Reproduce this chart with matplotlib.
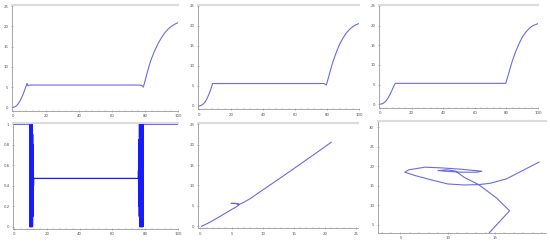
import matplotlib.pyplot as plt
from matplotlib.ticker import AutoMinorLocator

# top row: three time series (t, y)
t1 = [0, 1, 2, 3, 4, 5, 6, 7, 8, 8.5, 9, 9.5, 20, 40, 60, 77, 78, 79, 80, 81, 82, 83, 84,
      86, 88, 90, 92, 94, 96, 98, 100]
y1 = [0, 0.1, 0.35, 0.8, 1.4, 2.2, 3.1, 4.2, 5.3, 5.9, 5.3, 5.5, 5.5, 5.5, 5.5, 5.5, 5.4,
      5.0, 6.5, 8.0, 9.5, 10.9, 12.1, 14.1, 15.8, 17.2, 18.4, 19.3, 20.0, 20.5, 20.9]

t2 = [0, 1, 2, 3, 4, 5, 6, 7, 8, 8.5, 20, 40, 60, 78, 79, 79.6, 80, 81, 82, 83, 84,
      86, 88, 90, 92, 94, 96, 98, 100]
y2 = [0, 0.05, 0.25, 0.6, 1.1, 1.8, 2.7, 3.7, 4.9, 5.6, 5.6, 5.6, 5.6, 5.6, 5.4, 5.2,
      5.8, 7.2, 8.7, 10.1, 11.4, 13.6, 15.5, 17.0, 18.2, 19.1, 19.8, 20.3, 20.6]

t3 = [0, 1, 2, 3, 4, 5, 6, 7, 8, 9, 9.7, 20, 40, 60, 79.6, 80, 81, 82, 83, 84,
      86, 88, 90, 92, 94, 96, 98, 100]
y3 = [0, 0.05, 0.2, 0.5, 0.9, 1.5, 2.2, 3.0, 3.9, 4.8, 5.3, 5.3, 5.3, 5.3, 5.3, 5.8,
      7.2, 8.6, 10.0, 11.3, 13.5, 15.4, 17.0, 18.2, 19.1, 19.8, 20.2, 20.5]

# bottom left: switching signal
t4 = [0, 9.6, 9.7, 9.8, 9.9, 10.0, 10.1, 10.2, 10.3, 10.4, 10.5, 10.6, 10.7, 10.8, 10.9,
      11.0, 11.1, 11.2, 11.3, 11.4, 11.5, 11.6, 11.7, 11.8, 11.9, 12.0, 20, 40, 60,
      75.8, 75.9, 76.0, 76.1, 76.2, 76.3, 76.4, 76.5, 76.6, 76.7, 76.8, 76.9, 77.0,
      77.1, 77.2, 77.3, 77.4, 77.5, 77.6, 77.7, 77.8, 77.9, 78.0, 78.1, 78.2, 78.3,
      78.4, 78.5, 78.6, 78.7, 78.8, 79.0, 100]
y4 = [1, 1, 0, 1, 0, 1, 0, 1, 0, 1, 0, 1, 0, 1, 0, 1, 0, 1, 0, 0.9, 0.1, 0.8, 0.3,
      0.6, 0.4, 0.47, 0.47, 0.47, 0.47,
      0.47, 0.55, 0.38, 0.7, 0.2, 0.85, 0.1, 1, 0, 1, 0, 1, 0, 1, 0, 1, 0, 1, 0, 1,
      0, 1, 0, 1, 0, 1, 0, 1, 0, 1, 1, 1, 1]

# bottom middle: phase plot
x5 = [0.15, 1, 2, 3, 4, 5, 5.8, 6.1, 6.2, 5.6, 4.9, 5.5, 6.1, 6.3, 7, 8, 10, 13, 16,
      19, 21]
y5 = [0, 0.6, 1.4, 2.3, 3.2, 4.1, 4.8, 5.1, 5.3, 5.55, 5.6, 5.65, 5.5, 5.4, 5.9, 6.8,
      8.9, 12.0, 15.2, 18.4, 20.6]

# bottom right: trajectory
x6 = [19.66, 17.93, 16.21, 14.48, 13.28, 11.72, 10.0, 8.28, 6.55, 5.45, 5.86, 7.59,
      9.31, 11.38, 13.62, 13.10, 11.38, 9.66, 8.97, 10.0, 10.86, 11.72, 13.28, 15.17,
      16.55, 14.41]
y6 = [21.07, 18.92, 16.77, 15.65, 15.31, 15.22, 15.48, 16.51, 17.63, 18.49, 19.09,
      19.78, 19.6, 19.26, 18.75, 18.49, 18.49, 18.75, 18.92, 19.09, 18.75, 17.2, 15.31,
      11.87, 8.61, 3.02]

LINE = '#6b6be6'
W, H = 550, 243

fig = plt.figure(figsize=(5.5, 2.43), dpi=100)


def make_ax(left, right, top, bottom):
    ax = fig.add_axes([left / W, 1 - bottom / H, (right - left) / W, (bottom - top) / H])
    for s in ['left', 'bottom']:
        ax.spines[s].set_color('#9a9a9a')
        ax.spines[s].set_linewidth(0.6)
    ax.spines['right'].set_visible(False)
    ax.spines['top'].set_color('#dcdcdc')
    ax.spines['top'].set_linewidth(1.5)
    ax.xaxis.set_minor_locator(AutoMinorLocator(5))
    ax.yaxis.set_minor_locator(AutoMinorLocator(5))
    ax.tick_params(which='major', labelsize=2.8, length=2, width=0.4, pad=1.5,
                   colors='#8a8a8a', labelcolor='#555555', direction='inout')
    ax.tick_params(which='minor', length=1, width=0.3, colors='#9a9a9a', direction='in')
    return ax


ax1 = make_ax(12, 178, 5, 111)
ax1.plot(t1, y1, color=LINE, lw=0.8)
ax2 = make_ax(198, 359, 5, 109.5)
ax2.plot(t2, y2, color=LINE, lw=0.8)
ax3 = make_ax(379, 538, 5, 107.7)
ax3.plot(t3, y3, color=LINE, lw=0.8)
for ax in (ax1, ax2, ax3):
    ax.set_xlim(-0.6, 100)
    ax.set_ylim(-0.9, 25.25)
    ax.set_xticks([0, 20, 40, 60, 80, 100])
    ax.set_yticks([0, 5, 10, 15, 20, 25])

ax4 = make_ax(13, 178, 123, 228.7)
ax4.plot(t4, y4, color='#1a1aff', lw=0.9)
ax4.set_xlim(-0.6, 100)
ax4.set_ylim(-0.02, 1.01)
ax4.set_xticks([0, 20, 40, 60, 80, 100])
ax4.set_yticks([0, 0.2, 0.4, 0.6, 0.8, 1])
ax4.set_yticklabels(['0', '0.2', '0.4', '0.6', '0.8', '1'])

ax5 = make_ax(198, 358, 123, 228.3)
ax5.plot(x5, y5, color=LINE, lw=0.8)
ax5.set_xlim(-0.4, 25.3)
ax5.set_ylim(-0.5, 25.3)
ax5.set_xticks([0, 5, 10, 15, 20, 25])
ax5.set_yticks([0, 5, 10, 15, 20, 25])

ax6 = make_ax(377.7, 546, 121, 232.7)
ax6.plot(x6, y6, color=LINE, lw=0.8)
ax6.set_xlim(2.59, 20.4)
ax6.set_ylim(3.0, 31.6)
ax6.set_xticks([5, 10, 15])
ax6.set_yticks([5, 10, 15, 20, 25, 30])

fig.savefig('out.png', dpi=100)
